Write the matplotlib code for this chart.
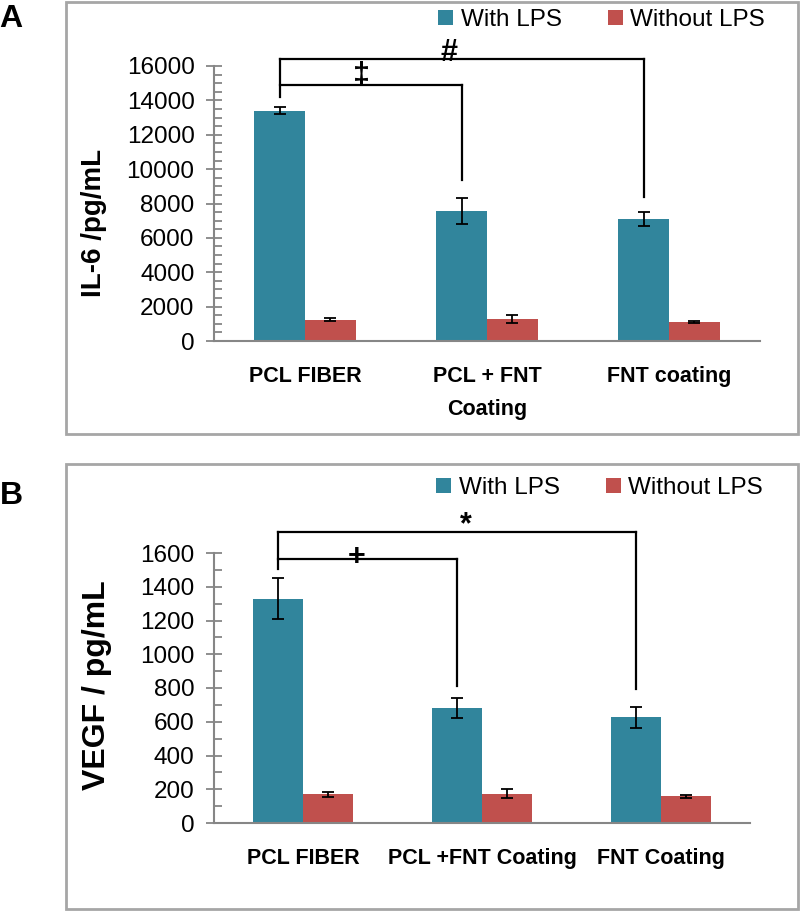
import matplotlib
matplotlib.use("Agg")
import matplotlib.pyplot as plt
import numpy as np
from matplotlib.patches import Rectangle

plt.rcParams['font.family'] = ['Liberation Sans', 'DejaVu Sans']

groups_a = ["PCL FIBER", "PCL + FNT\nCoating", "FNT coating"]
groups_b = ["PCL FIBER", "PCL +FNT Coating", "FNT Coating"]
series = ["With LPS", "Without LPS"]

il6_with = [13400, 7550, 7100]
il6_with_err = [200, 750, 430]
il6_without = [1250, 1280, 1100]
il6_without_err = [100, 230, 70]

vegf_with = [1330, 683, 626]
vegf_with_err = [123, 59, 62]
vegf_without = [170, 173, 158]
vegf_without_err = [13, 26, 8]

# significance brackets: (top level, inner level, left drop, right drops), symbols
brk_a = dict(top=16400, inner=14900, left_end=14200, right_end=[9370, 8380],
             sym_inner="\u2021", sym_top="#", sym_inner_pos=(0.31, 15400), sym_top_pos=(0.79, 16750))
brk_b = dict(top=1723, inner=1566, left_end=1505, right_end=[813, 796],
             sym_inner="+", sym_top="*", sym_inner_pos=(0.30, 1575), sym_top_pos=(0.91, 1765))

teal = "#31859C"
red = "#C0504D"
axis_grey = "#868686"
box_grey = "#A6A6A6"

W, H = 800, 911
fig = plt.figure(figsize=(W / 100, H / 100), dpi=100)


def fx(px):
    return px / W


def fy(py):
    return 1 - py / H


def panel(ax, cats, vw, ew, vo, eo, ymax, ystep, yminor, brk, ylabel, lab_xy, lab_size):
    x = np.arange(len(cats))
    bw = 0.28
    ax.bar(x - bw / 2, vw, bw, color=teal, label=series[0])
    ax.bar(x + bw / 2, vo, bw, color=red, label=series[1])
    ax.errorbar(x - bw / 2, vw, yerr=ew, fmt="none", ecolor="black", elinewidth=1.3, capsize=4, capthick=1.3)
    ax.errorbar(x + bw / 2, vo, yerr=eo, fmt="none", ecolor="black", elinewidth=1.3, capsize=4, capthick=1.3)

    ax.set_xlim(-0.5, len(cats) - 0.5)
    ax.set_ylim(0, ymax)
    ax.set_yticks(np.arange(0, ymax + 1, ystep))
    ax.set_yticks(np.arange(0, ymax + 1, yminor), minor=True)
    ax.set_xticks(x)
    ax.set_xticklabels(cats, fontweight="bold", fontsize=15.5, linespacing=1.75)
    ax.tick_params(axis="x", length=0, pad=18)
    ax.tick_params(axis="y", which="major", direction="inout", length=12, width=1.3,
                   color=axis_grey, labelsize=17.5, pad=8)
    ax.tick_params(axis="y", which="minor", direction="in", length=6, width=1.3, color=axis_grey)
    for s in ["top", "right"]:
        ax.spines[s].set_visible(False)
    for s in ["left", "bottom"]:
        ax.spines[s].set_color(axis_grey)
        ax.spines[s].set_linewidth(1.5)

    # brackets
    xl = x[0] - bw / 2
    x2 = x[1] - bw / 2
    x3 = x[2] - bw / 2
    kw = dict(color="black", lw=1.6, clip_on=False)
    ax.plot([xl, xl], [brk["left_end"], brk["top"]], **kw)
    ax.plot([xl, x3], [brk["top"], brk["top"]], **kw)
    ax.plot([x3, x3], [brk["top"], brk["right_end"][1]], **kw)
    ax.plot([xl, x2], [brk["inner"], brk["inner"]], **kw)
    ax.plot([x2, x2], [brk["inner"], brk["right_end"][0]], **kw)
    ax.text(*brk["sym_inner_pos"], brk["sym_inner"], ha="center", va="center", fontsize=22,
            fontweight="bold", clip_on=False)
    ax.text(*brk["sym_top_pos"], brk["sym_top"], ha="center", va="center", fontsize=22,
            fontweight="bold", clip_on=False)

    fig.text(fx(lab_xy[0]), fy(lab_xy[1]), ylabel, rotation=90, ha="center", va="center",
             fontweight="bold", fontsize=lab_size)


# Panel A
ax_a = fig.add_axes([fx(214), fy(341), fx(760 - 214), (341 - 66) / H])
panel(ax_a, groups_a, il6_with, il6_with_err, il6_without, il6_without_err,
      16000, 2000, 500, brk_a, "IL-6 /pg/mL", (94, 223), 20)

# Panel B
ax_b = fig.add_axes([fx(214), fy(823), fx(750 - 214), (823 - 553) / H])
panel(ax_b, groups_b, vegf_with, vegf_with_err, vegf_without, vegf_without_err,
      1600, 200, 100, brk_b, "VEGF / pg/mL", (97, 685), 23)

# legends
for ax, (rx, cy) in [(ax_a, (765, 20)), (ax_b, (763, 488))]:
    h, l = ax.get_legend_handles_labels()
    fig.legend(h, l, loc="center right", bbox_to_anchor=(fx(rx), fy(cy)), ncol=2, frameon=False,
               fontsize=17.5, handlelength=0.62, handleheight=0.62, handletextpad=0.3,
               columnspacing=1.9, borderpad=0, borderaxespad=0)

# panel boxes
fig.patches.append(Rectangle((fx(66), fy(434)), fx(798 - 66), (434 - 2) / H, transform=fig.transFigure,
                             fill=False, edgecolor=box_grey, lw=2))
fig.patches.append(Rectangle((fx(66), fy(909)), fx(798 - 66), (909 - 464) / H, transform=fig.transFigure,
                             fill=False, edgecolor=box_grey, lw=2))

fig.text(fx(11), fy(19), "A", ha="center", va="center", fontsize=23, fontweight="bold")
fig.text(fx(11), fy(496), "B", ha="center", va="center", fontsize=23, fontweight="bold")

fig.savefig("out.png", dpi=100)
